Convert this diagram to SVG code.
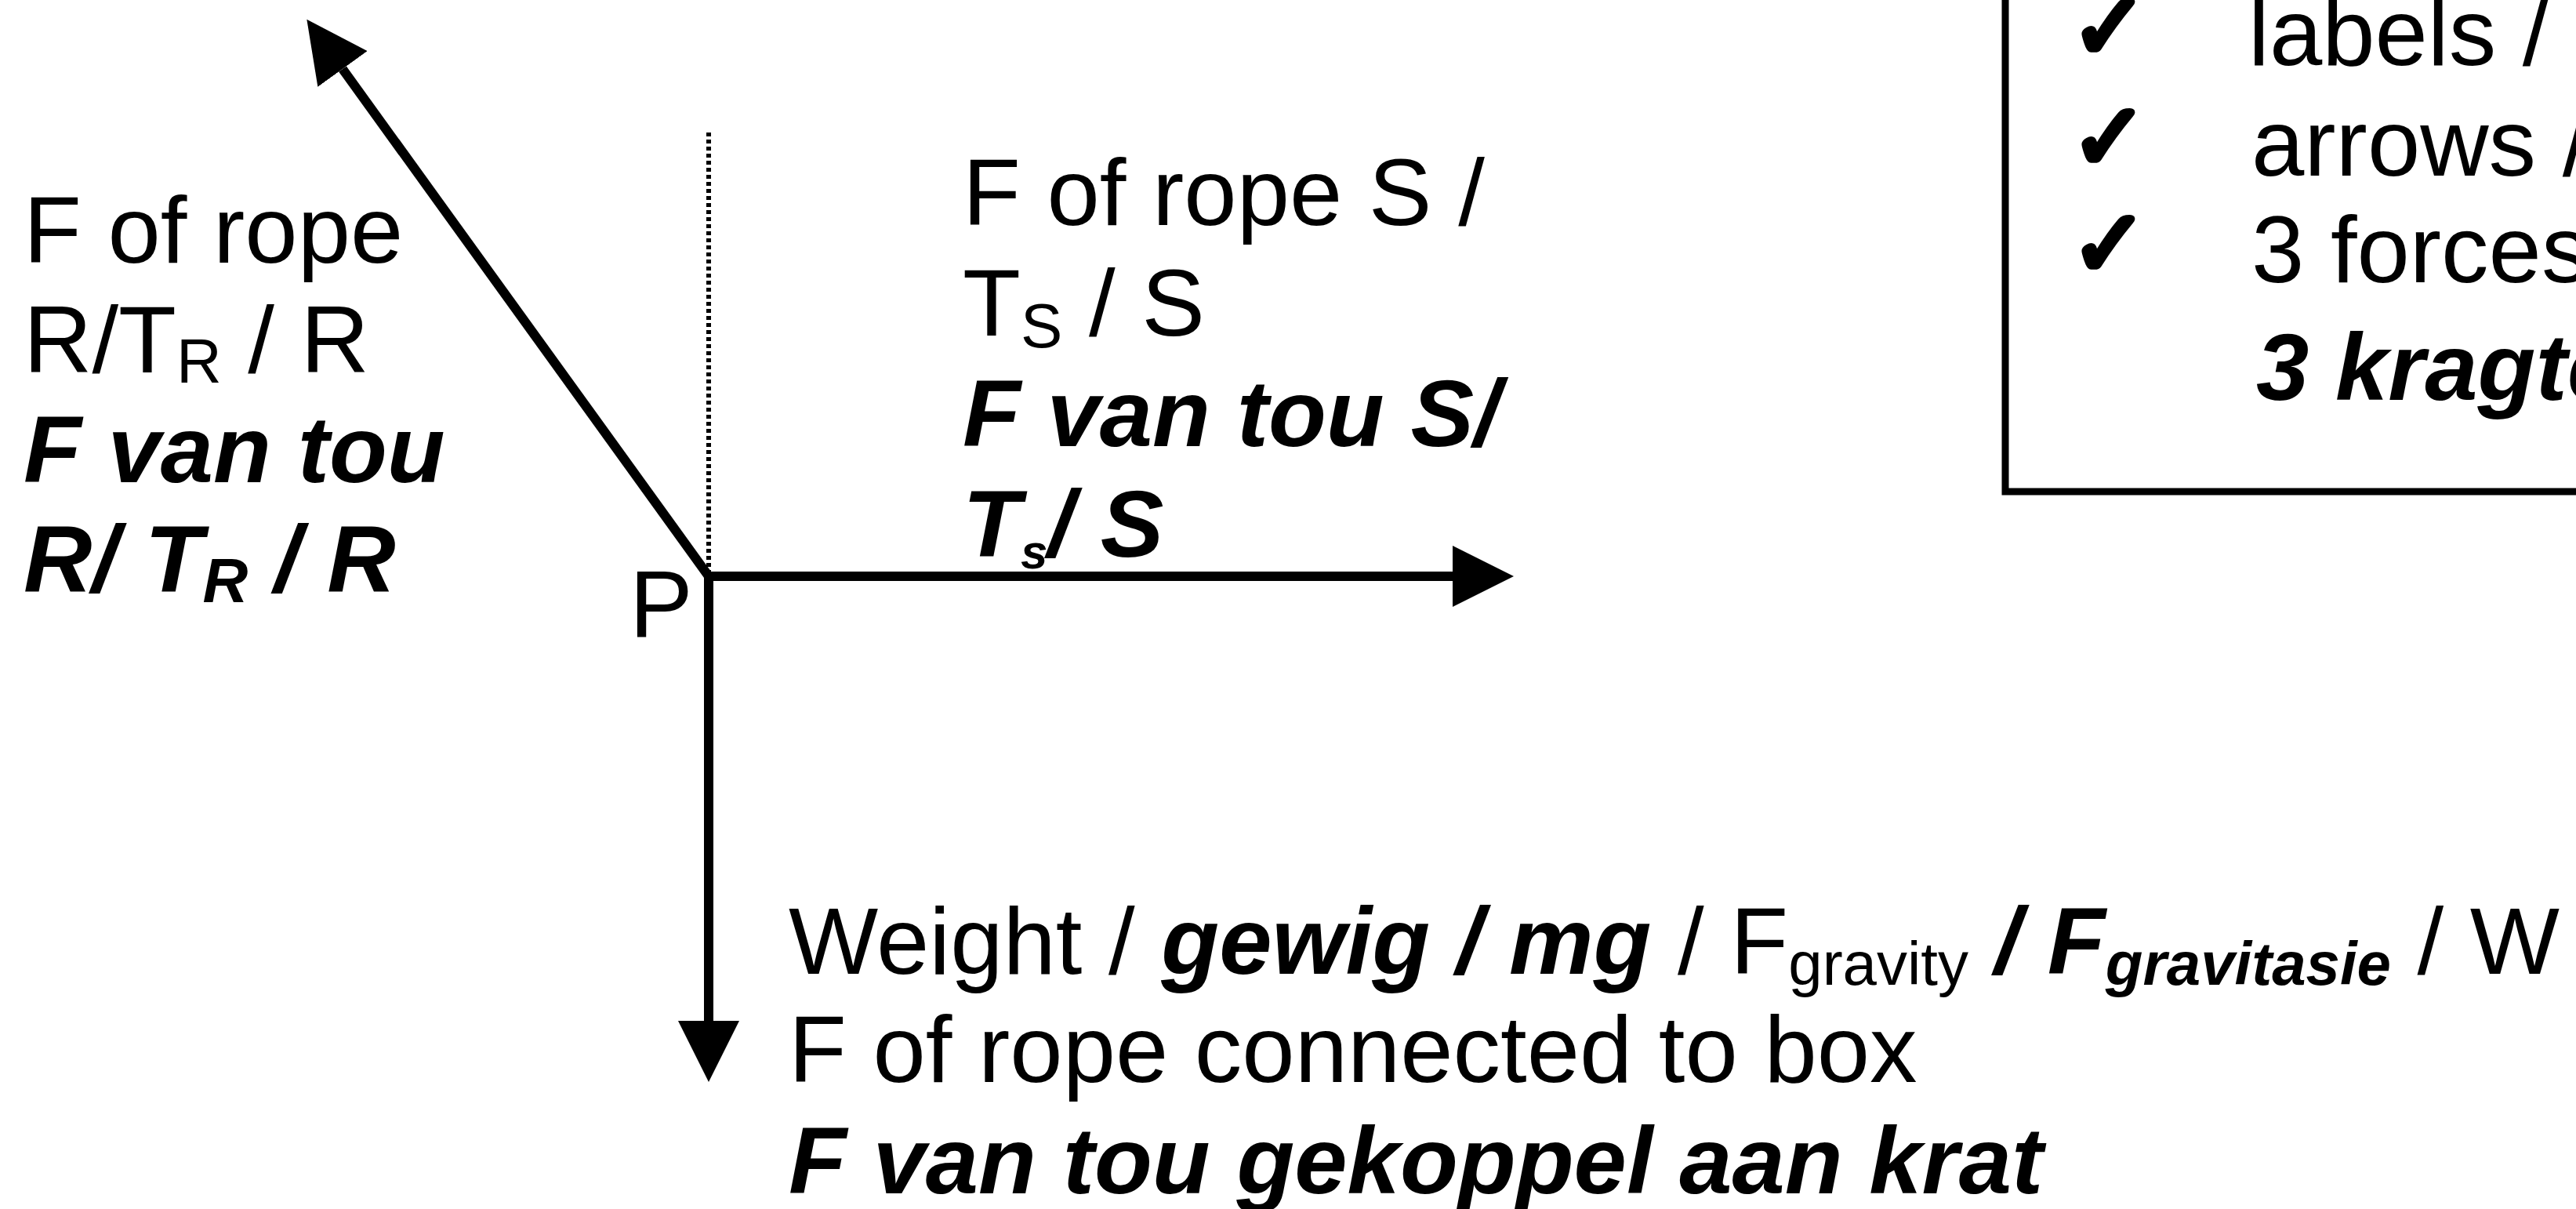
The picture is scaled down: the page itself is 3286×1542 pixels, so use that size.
<svg xmlns="http://www.w3.org/2000/svg" width="3286" height="1542" viewBox="0 0 3286 1542">
<style>
.t{font-family:"Liberation Sans",Arial,sans-serif;font-size:121px;fill:#000}
.bi{font-weight:bold;font-style:italic}
.sub{font-size:80px}
.sub2{font-size:78px}
.chk{font-family:"DejaVu Sans",sans-serif;font-size:116px;fill:#000;stroke:#000;stroke-width:8;stroke-linejoin:round}
.arrow{stroke:#000;stroke-width:12;fill:none;marker-end:url(#head)}
</style>
<defs>
<marker id="head" markerUnits="userSpaceOnUse" viewBox="0 -39 80 78" refX="0" refY="0" markerWidth="80" markerHeight="78" orient="auto">
<path d="M0,-39 L78,0 L0,39 z" fill="#000"/>
</marker>
</defs>
<rect width="3286" height="1542" fill="#fff"/>
<g id="connectors">
<line x1="904" y1="169" x2="904" y2="735" stroke="#000" stroke-width="6" stroke-dasharray="5 4"/>
<line class="arrow" x1="904" y1="735" x2="437" y2="88"/>
<line class="arrow" x1="898" y1="735" x2="1853" y2="735"/>
<line class="arrow" x1="904" y1="729" x2="904" y2="1302"/>
</g>
<g id="point-P">
<text class="t" x="803" y="812">P</text>
</g>
<g id="label-rope-R">
<text class="t" x="30" y="335">F of rope</text>
<text class="t" x="30" y="475">R/T<tspan class="sub" dy="13">R</tspan><tspan dy="-13"> / R</tspan></text>
<text class="t bi" x="30" y="615">F van tou</text>
<text class="t bi" x="30" y="755">R/ T<tspan class="sub" dy="13">R</tspan><tspan dy="-13"> / R</tspan></text>
</g>
<g id="label-rope-S">
<text class="t" x="1228" y="287">F of rope S /</text>
<text class="t" x="1228" y="428">T<tspan class="sub" dy="15">S</tspan><tspan dy="-15"> / S</tspan></text>
<text class="t bi" x="1228" y="569">F van tou S/</text>
<text class="t bi" x="1228" y="710">T<tspan class="sub" dy="15" style="font-size:62px">s</tspan><tspan dy="-15">/ S</tspan></text>
</g>
<g id="label-weight">
<text class="t" x="1006" y="1242">Weight / <tspan class="bi">gewig / mg</tspan> / F<tspan class="sub2" dy="14">gravity</tspan><tspan dy="-14"> </tspan><tspan class="bi">/ F</tspan><tspan class="bi sub2" dy="14">gravitasie</tspan><tspan dy="-14"> / W</tspan></text>
<text class="t" x="1006" y="1380">F of rope connected to box</text>
<text class="t bi" x="1006" y="1522">F van tou gekoppel aan krat</text>
</g>
<g id="marking-box">
<rect x="2558" y="-50" width="800" height="677" fill="none" stroke="#000" stroke-width="9"/>
<text class="chk" x="2642" y="74">✓</text>
<text class="chk" x="2642" y="215">✓</text>
<text class="chk" x="2642" y="351">✓</text>
<text class="t" x="2868" y="83">labels /</text>
<text class="t" x="2872" y="224">arrows /</text>
<text class="t" x="2872" y="360">3 forces</text>
<text class="t bi" x="2878" y="510">3 kragte</text>
</g>
</svg>
